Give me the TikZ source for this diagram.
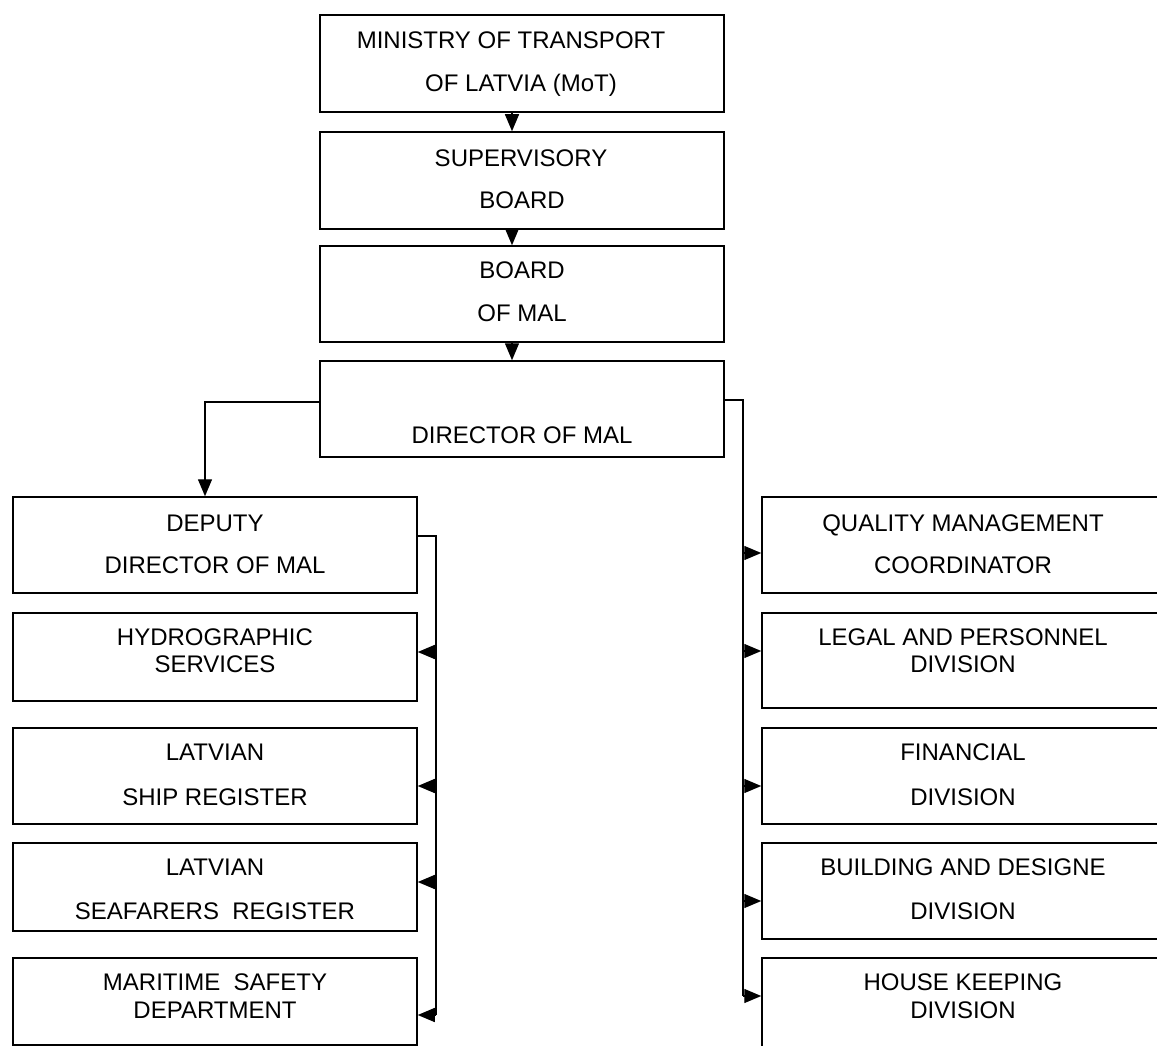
\documentclass[tikz,border=0pt]{standalone}
\usepackage{fontspec}
\setmainfont{Liberation Sans}
\usetikzlibrary{arrows.meta}
\begin{document}
\begin{tikzpicture}[x=1pt,y=-1pt,
  box/.style={draw=black, line width=1.5pt, inner sep=0pt, rectangle},
  txt/.style={font=\fontsize{24}{28}\selectfont, anchor=base, inner sep=0pt},
  conn/.style={draw=black, line width=1.4pt},
  arr/.style={conn, -{Triangle[length=17pt,width=14pt]}}]
\useasboundingbox (0,0) rectangle (1157,1046);
\clip (0,0) rectangle (1157,1046);
% central column
\node[box, minimum width=404pt, minimum height=97pt] (mot) at (522,63.5) {};
\node[box, minimum width=404pt, minimum height=97pt] (sup) at (522,180.5) {};
\node[box, minimum width=404pt, minimum height=96pt] (brd) at (522,294) {};
\node[box, minimum width=404pt, minimum height=96pt] (dir) at (522,409) {};
\node[txt] (motA) at (511,48.6) {MINISTRY OF TRANSPORT};
\node[txt] (motB) at (521,91.6) {OF LATVIA (MoT)};
\node[txt] (supA) at (521,166.6) {SUPERVISORY};
\node[txt] (supB) at (522,208.6) {BOARD};
\node[txt] (brdA) at (522,278.6) {BOARD};
\node[txt] (brdB) at (522,321.6) {OF MAL};
\node[txt] (dirA) at (522,443.6) {DIRECTOR OF MAL};
% left column
\node[box, minimum width=404pt, minimum height=96pt] (dep) at (215,545) {};
\node[box, minimum width=404pt, minimum height=88pt] (hyd) at (215,657) {};
\node[box, minimum width=404pt, minimum height=96pt] (shp) at (215,776) {};
\node[box, minimum width=404pt, minimum height=88pt] (sea) at (215,887) {};
\node[box, minimum width=404pt, minimum height=87pt] (mar) at (215,1001.5) {};
\node[txt] (depA) at (215,531.6) {DEPUTY};
\node[txt] (depB) at (215,573.6) {DIRECTOR OF MAL};
\node[txt] (hydA) at (215,645.6) {HYDROGRAPHIC};
\node[txt] (hydB) at (215,672.6) {SERVICES};
\node[txt] (shpA) at (215,760.6) {LATVIAN};
\node[txt] (shpB) at (215,805.6) {SHIP REGISTER};
\node[txt] (seaA) at (215,875.6) {LATVIAN};
\node[txt] (seaB) at (215,919.6) {SEAFARERS\ \ REGISTER};
\node[txt] (marA) at (215,990.6) {MARITIME\ \ SAFETY};
\node[txt] (marB) at (215,1018.6) {DEPARTMENT};
% right column
\node[box, minimum width=420pt, minimum height=96pt] (qmc) at (972,545) {};
\node[box, minimum width=420pt, minimum height=95pt] (leg) at (972,660.5) {};
\node[box, minimum width=420pt, minimum height=96pt] (fin) at (972,776) {};
\node[box, minimum width=420pt, minimum height=96pt] (bld) at (972,891) {};
\node[box, minimum width=420pt, minimum height=100pt] (hsk) at (972,1008) {};
\node[txt] (qmcA) at (963,531.6) {QUALITY MANAGEMENT};
\node[txt] (qmcB) at (963,573.6) {COORDINATOR};
\node[txt] (legA) at (963,645.6) {LEGAL AND PERSONNEL};
\node[txt] (legB) at (963,672.6) {DIVISION};
\node[txt] (finA) at (963,760.6) {FINANCIAL};
\node[txt] (finB) at (963,805.6) {DIVISION};
\node[txt] (bldA) at (963,875.6) {BUILDING AND DESIGNE};
\node[txt] (bldB) at (963,919.6) {DIVISION};
\node[txt] (hskA) at (963,990.6) {HOUSE KEEPING};
\node[txt] (hskB) at (963,1018.6) {DIVISION};
% vertical arrows in the central column
\draw[arr] (mot.south -| 512,0) -- (sup.north -| 512,0);
\draw[arr] (sup.south -| 512,0) -- (brd.north -| 512,0);
\draw[arr] (brd.south -| 512,0) -- (dir.north -| 512,0);
% director to deputy
\draw[arr] (dir.west |- 0,402) -| (dep.north -| 205,0);
% deputy bus
\coordinate (lb) at (436,1015);
\draw[conn] (dep.east |- 0,536) -| (lb);
\draw[arr] (lb) -- (mar.east |- 0,1015);
\draw[arr] (436,652) -- (hyd.east |- 0,652);
\draw[arr] (436,786) -- (shp.east |- 0,786);
\draw[arr] (436,882) -- (sea.east |- 0,882);
% director right bus
\coordinate (rb) at (743,996);
\draw[conn] (dir.east |- 0,400) -| (rb);
\draw[arr] (rb) -- (hsk.west |- 0,996);
\draw[arr] (743,553) -- (qmc.west |- 0,553);
\draw[arr] (743,651) -- (leg.west |- 0,651);
\draw[arr] (743,786) -- (fin.west |- 0,786);
\draw[arr] (743,901) -- (bld.west |- 0,901);
\end{tikzpicture}
\end{document}
